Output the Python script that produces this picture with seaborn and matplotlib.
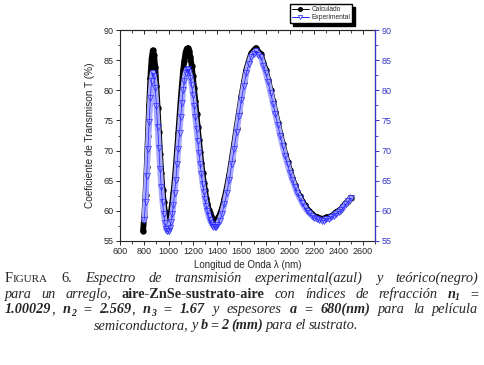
import matplotlib
matplotlib.use("Agg")
import matplotlib.pyplot as plt
import seaborn as sns
import pandas as pd
from matplotlib.ticker import MultipleLocator
from matplotlib.lines import Line2D
from matplotlib.transforms import IdentityTransform

# ---------------- data ----------------
wl_calc = [790, 800, 810, 820, 830, 840, 850, 860, 870, 880, 890, 900, 910, 920, 930, 940,
           950, 960, 970, 980, 990, 1000, 1010, 1020, 1030, 1040, 1050, 1060, 1070, 1080,
           1090, 1100, 1110, 1120, 1130, 1140, 1150, 1160, 1170, 1180, 1190, 1200, 1210,
           1220, 1230, 1240, 1250, 1260, 1270, 1280, 1290, 1300, 1310, 1320, 1330, 1340,
           1350, 1360, 1370, 1380, 1390, 1400, 1420, 1440, 1460, 1480, 1500, 1520, 1540,
           1560, 1580, 1600, 1620, 1640, 1660, 1680, 1700, 1720, 1740, 1760, 1780, 1800,
           1820, 1840, 1860, 1880, 1900, 1920, 1940, 1960, 1980, 2000, 2020, 2040, 2060,
           2080, 2100, 2120, 2140, 2160, 2180, 2200, 2220, 2240, 2260, 2280, 2300, 2320,
           2340, 2360, 2380, 2400, 2420, 2440, 2460, 2480, 2500]
t_calc = [56.7, 59.2, 62.7, 67.2, 72.4, 77.5, 82.0, 85.2, 86.6, 85.9, 83.9, 80.7, 77.0, 73.1,
          69.4, 66.2, 63.5, 61.4, 59.8, 58.7, 58.3, 58.3, 58.9, 59.9, 61.3, 63.0, 65.1, 67.5,
          70.1, 72.9, 75.7, 78.5, 81.0, 83.3, 84.9, 86.3, 86.9, 87.0, 86.5, 85.5, 84.1, 82.3,
          80.3, 78.2, 76.0, 73.9, 71.8, 69.7, 67.9, 66.2, 64.7, 63.4, 62.1, 61.2, 60.2, 59.7,
          59.1, 58.7, 58.5, 58.3, 58.4, 58.6, 59.3, 60.4, 62.0, 63.9, 66.0, 68.5, 71.1, 73.8,
          76.4, 79.0, 81.3, 83.4, 84.8, 86.1, 86.6, 87.0, 86.4, 86.0, 84.6, 83.4, 81.7, 80.0,
          78.2, 76.4, 74.6, 72.8, 71.1, 69.5, 68.1, 66.7, 65.4, 64.3, 63.2, 62.4, 61.6, 60.9,
          60.3, 59.9, 59.5, 59.1, 59.0, 58.8, 58.7, 58.7, 58.9, 59.0, 59.1, 59.4, 59.8, 60.0,
          60.3, 60.8, 61.3, 61.7, 62.2]

wl_exp = wl_calc[1:]
t_exp = [58.5, 61.5, 65.8, 70.3, 74.7, 78.7, 81.6, 82.9, 82.3, 80.4, 77.4, 73.9, 70.4, 66.9,
         63.9, 61.4, 59.4, 58.0, 57.0, 56.6, 56.6, 57.1, 58.1, 59.4, 61.0, 63.0, 65.2, 67.7,
         70.3, 72.9, 75.5, 77.9, 80.0, 81.6, 82.8, 83.4, 83.5, 83.0, 82.1, 80.8, 79.3, 77.4,
         75.5, 73.5, 71.6, 69.6, 67.8, 66.1, 64.5, 63.2, 61.9, 60.8, 59.9, 59.1, 58.5, 58.0,
         57.7, 57.4, 57.3, 57.4, 57.6, 58.4, 59.5, 61.1, 63.0, 65.2, 67.7, 70.3, 73.0, 75.8,
         78.4, 80.7, 82.8, 84.3, 85.6, 86.1, 86.5, 85.9, 85.5, 84.1, 82.9, 81.3, 79.6, 77.8,
         76.0, 74.2, 72.4, 70.7, 69.1, 67.7, 66.3, 65.1, 64.0, 62.9, 62.1, 61.3, 60.6, 60.0,
         59.6, 59.2, 58.8, 58.7, 58.5, 58.4, 58.4, 58.6, 58.7, 58.9, 59.2, 59.5, 59.8, 60.1,
         60.6, 61.1, 61.6, 62.1]

series_labels = ["Calculado", "Experimental"]
x_ticks = list(range(600, 2800, 200))
y_ticks = list(range(55, 95, 5))

df_calc = pd.DataFrame({"wl": wl_calc, "T": t_calc})
df_exp = pd.DataFrame({"wl": wl_exp, "T": t_exp})

# ---------------- style ----------------
sns.set_style("ticks")
plt.rcParams["font.family"] = ["Liberation Sans", "DejaVu Sans"]

W, H = 484, 365
fig = plt.figure(figsize=(W / 100, H / 100), dpi=100)
ax = fig.add_axes([120 / W, 1 - 241 / H, 255 / W, 211 / H])

BLUE = "#2222ff"
AXBLUE = "#3535c8"

# black (calculated) band + markers
sns.lineplot(data=df_calc, x="wl", y="T", ax=ax, color="black", lw=4.2,
             estimator=None, sort=False, legend=False)
sns.lineplot(data=df_calc, x="wl", y="T", ax=ax, color="black", lw=0.6, marker="o",
             markersize=3.8, markeredgecolor="black", estimator=None, sort=False,
             legend=False)
# blue (experimental) band + open triangles
sns.lineplot(data=df_exp, x="wl", y="T", ax=ax, color="#a9a9ff", lw=4.2,
             estimator=None, sort=False, legend=False)
sns.lineplot(data=df_exp, x="wl", y="T", ax=ax, color=BLUE, lw=0.5, marker="v",
             markersize=3.8, markerfacecolor="none", markeredgecolor=BLUE,
             markeredgewidth=0.45, estimator=None, sort=False, legend=False)

ax.set_xlim(600, 2700)
ax.set_ylim(55, 90)
ax.set_xticks(x_ticks)
ax.set_yticks(y_ticks)
ax.xaxis.set_minor_locator(MultipleLocator(100))
ax.yaxis.set_minor_locator(MultipleLocator(2.5))
ax.tick_params(axis="both", which="major", direction="out", length=3, width=0.7,
               labelsize=6.5, pad=1.5)
ax.tick_params(axis="both", which="minor", direction="out", length=1.8, width=0.6)
for sp in ax.spines.values():
    sp.set_linewidth(0.8)
    sp.set_visible(True)

ax.set_xlabel("Longitud de Onda λ (nm)", fontsize=7)
ax.set_ylabel("Coeficiente de Transmison T (%)", fontsize=7.2)
ax.xaxis.set_label_coords(0.5, -(260 - 241) / 211)
ax.yaxis.set_label_coords((95 - 120) / 255, 0.5)

# top axis: inward ticks, no labels
sec = ax.secondary_xaxis("top")
sec.set_xticks(x_ticks)
sec.xaxis.set_minor_locator(MultipleLocator(100))
sec.tick_params(axis="x", which="major", direction="in", length=3, width=0.7,
                labeltop=False)
sec.tick_params(axis="x", which="minor", direction="in", length=1.8, width=0.6)
sec.spines["top"].set_linewidth(0.8)

# right blue axis
ax2 = ax.twinx()
ax2.set_ylim(55, 90)
ax2.set_yticks(y_ticks)
ax2.yaxis.set_minor_locator(MultipleLocator(2.5))
ax2.tick_params(axis="y", which="major", direction="out", length=3, width=0.7,
                labelsize=6.5, pad=1.5, colors=AXBLUE)
ax2.tick_params(axis="y", which="minor", direction="out", length=1.8, width=0.6,
                colors=AXBLUE)
ax2.spines["right"].set_color(AXBLUE)
ax2.spines["right"].set_linewidth(0.9)
for s in ("left", "top", "bottom"):
    ax2.spines[s].set_visible(False)

# legend
handles = [Line2D([], [], color="black", lw=0.7, marker="o", markersize=2.6),
           Line2D([], [], color=BLUE, lw=0.7, marker="v", markersize=3.0,
                  markerfacecolor="white", markeredgecolor=BLUE, markeredgewidth=0.5)]
fig.legend(handles, series_labels, loc="upper right",
           bbox_to_anchor=(352 / W, 1 - 4 / H), frameon=True, fancybox=False,
           shadow={"color": "black", "alpha": 1}, edgecolor="black", framealpha=1,
           fontsize=4.8, borderpad=0.3, labelspacing=0.2, handlelength=2.6,
           handletextpad=0.3, borderaxespad=0)

# ---------------- caption ----------------
FS = 10.3
SF = ["Liberation Serif", "DejaVu Serif"]
STY = {
    "R": dict(family=SF, size=FS),
    "I": dict(family=SF, size=FS, style="italic"),
    "B": dict(family=SF, size=FS, weight="bold"),
    "BI": dict(family=SF, size=FS, style="italic", weight="bold"),
    "SC": dict(family=SF, size=FS * 0.78),
    "SUB": dict(family=SF, size=FS * 0.68, style="italic", weight="bold", dy=-2.5),
}
X0, X1 = 5, 478
renderer = fig.canvas.get_renderer()


def caption_line(words, y_px, mode="justify", center=None):
    made = []
    total = 0.0
    for word in words:
        items = []
        wsum = 0.0
        for s, key in word:
            kw = dict(STY[key])
            dy = kw.pop("dy", 0)
            t = fig.text(0, 0, s, transform=IdentityTransform(), ha="left",
                         va="baseline", **kw)
            w = t.get_window_extent(renderer=renderer).width
            items.append((t, w, dy))
            wsum += w
        made.append((items, wsum))
        total += wsum
    n = len(made)
    if mode == "justify":
        gap = (X1 - X0 - total) / (n - 1)
        x = X0
    else:
        gap = 2.8
        x = center - (total + gap * (n - 1)) / 2
    yb = H - y_px
    for items, _ in made:
        for t, w, dy in items:
            t.set_position((x, yb + dy))
            x += w
        x += gap


def it(s):
    return [[(w, "I")] for w in s.split()]


line1 = [[("F", "R"), ("IGURA", "SC")], [("6.", "R")]] + it(
    "Espectro de transmisión experimental(azul) y teórico(negro)")
line2 = it("para un arreglo,") + [[("aire-ZnSe-sustrato-aire", "B")]] + it(
    "con índices de refracción") + [[("n", "BI"), ("1", "SUB")], [("=", "R")]]
line3 = ([[("1.00029", "BI"), (",", "R")], [("n", "BI"), ("2", "SUB")], [("=", "R")],
          [("2.569", "BI"), (",", "R")], [("n", "BI"), ("3", "SUB")], [("=", "R")],
          [("1.67", "BI")]] + it("y espesores") +
         [[("a", "BI")], [("=", "R")], [("680(nm)", "BI")]] + it("para la película"))
line4 = it("semiconductora, y") + [[("b", "BI")], [("=", "R")], [("2", "BI")],
                                  [("(mm)", "BI")]] + it("para el sustrato.")

caption_line(line1, 282)
caption_line(line2, 298)
caption_line(line3, 313)
caption_line(line4, 329, mode="center", center=226)

fig.savefig("out.png", dpi=100)
